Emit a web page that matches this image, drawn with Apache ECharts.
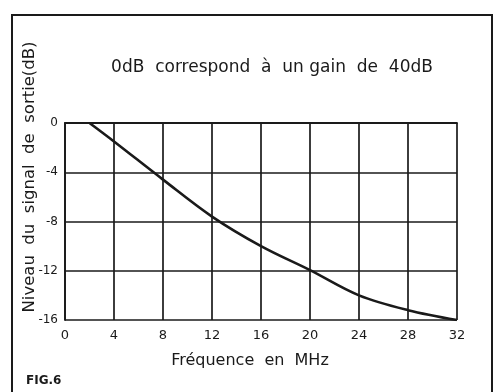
<!DOCTYPE html>
<html>
<head>
<meta charset="utf-8">
<script src="https://cdn.jsdelivr.net/npm/echarts@6/dist/echarts.min.js"></script>
<style>
  html, body { margin: 0; padding: 0; background: #fff; }
  #chart { width: 498px; height: 392px; }
</style>
</head>
<body>
<div id="chart"></div>
<script>
// Frequency (MHz) and output level (dB) of the response curve
const freqMHz = [2, 4, 8, 12, 16, 20, 24, 28, 32];
const levelDB = [0, -1.5, -4.6, -7.6, -10, -11.95, -14, -15.2, -16];

// Axis tick labels
const xTicks = ['0', '4', '8', '12', '16', '20', '24', '28', '32'];
const yTicks = ['0', '-4', '-8', '-12', '-16'];

const ink = '#1a1a1a';
const font = 'DejaVu Sans';

const chart = echarts.init(document.getElementById('chart'), null, { renderer: 'canvas' });

chart.setOption({
  backgroundColor: '#ffffff',
  animation: false,
  grid: { left: 65, right: 41, top: 123, bottom: 72 },
  xAxis: {
    type: 'value',
    min: 0, max: 32, interval: 4,
    axisLine: { show: true, lineStyle: { color: ink, width: 1.8 } },
    axisTick: { show: false },
    splitLine: { show: true, lineStyle: { color: ink, width: 1.7 } },
    axisLabel: {
      margin: 9, color: ink, fontFamily: font, fontSize: 13,
      formatter: v => xTicks[Math.round(v / 4)]
    }
  },
  yAxis: {
    type: 'value',
    min: -16, max: 0, interval: 4,
    axisLine: { show: true, lineStyle: { color: ink, width: 1.8 } },
    axisTick: { show: false },
    splitLine: { show: true, lineStyle: { color: ink, width: 1.7 } },
    axisLabel: {
      margin: 7, color: ink, fontFamily: font, fontSize: 12,
      formatter: v => yTicks[Math.round(-v / 4)]
    }
  },
  series: [{
    type: 'line',
    data: freqMHz.map((f, i) => [f, levelDB[i]]),
    smooth: 0.35,
    symbol: 'none',
    lineStyle: { color: ink, width: 2.6 },
    z: 5
  }],
  graphic: [
    // outer frame
    { type: 'rect', shape: { x: 12, y: 15, width: 480, height: 380 },
      style: { fill: null, stroke: ink, lineWidth: 2 }, silent: true },
    // heading
    { type: 'text', x: 272, y: 68,
      style: { text: '0dB  correspond  à  un gain  de  40dB', fill: ink,
               font: '17px "' + font + '"', textAlign: 'center', textVerticalAlign: 'middle' } },
    // vertical axis title
    { type: 'text', x: 30, y: 177, rotation: Math.PI / 2,
      style: { text: 'Niveau  du  signal  de  sortie(dB)', fill: ink,
               font: '16.5px "' + font + '"', textAlign: 'center', textVerticalAlign: 'middle' } },
    // horizontal axis title
    { type: 'text', x: 250, y: 361,
      style: { text: 'Fréquence  en  MHz', fill: ink,
               font: '16px "' + font + '"', textAlign: 'center', textVerticalAlign: 'middle' } },
    // figure number
    { type: 'text', x: 26, y: 381,
      style: { text: 'FIG.6', fill: ink,
               font: 'bold 12px "' + font + '"', textAlign: 'left', textVerticalAlign: 'middle' } }
  ]
});
</script>
</body>
</html>
